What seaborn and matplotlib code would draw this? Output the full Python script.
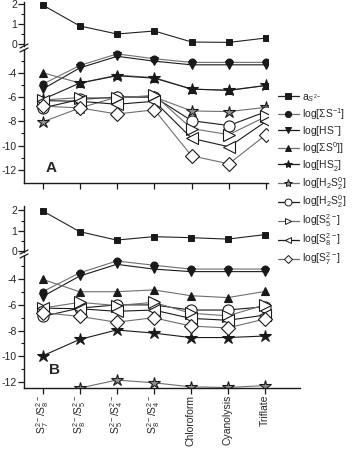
import numpy as np
import matplotlib
matplotlib.use("Agg")
import matplotlib.pyplot as plt
from matplotlib.lines import Line2D
import seaborn as sns

sns.set_theme(style="white")
plt.rcParams['font.family'] = ['Liberation Sans', 'DejaVu Sans']
plt.rcParams['mathtext.fontset'] = 'custom'
plt.rcParams['mathtext.rm'] = 'Liberation Sans'
plt.rcParams['mathtext.it'] = 'Liberation Sans:italic'
plt.rcParams['mathtext.bf'] = 'Liberation Sans:bold'
plt.rcParams['axes.unicode_minus'] = False

categories = [r'S$_7^{2-}$/S$_8^{2-}$', r'S$_8^{2-}$/S$_5^{2-}$', r'S$_5^{2-}$/S$_4^{2-}$',
              r'S$_8^{2-}$/S$_4^{2-}$', 'Chloroform', 'Cyanolysis', 'Triflate']

series_labels = [r'a$_{S^{2-}}$', r'log[$\Sigma$S$^{-1}$]', r'log[HS$^{-}$]', r'log[$\Sigma$S$^{0}$]]',
                 r'log[HS$_2^{-}$]', r'log[H$_2$S$_2^{0}$]', r'log[H$_2$S$_2^{0}$]',
                 r'log[S$_5^{2-}$]', r'log[S$_8^{2-}$]', r'log[S$_7^{2-}$]']

# Panel A
a_A = [1.95, 0.9, 0.5, 0.65, 0.1, 0.08, 0.3]
summ1_A = [-4.95, -3.4, -2.45, -2.85, -3.15, -3.15, -3.15]
hs_A = [-5.35, -3.6, -2.65, -3.05, -3.35, -3.35, -3.35]
sum0_A = [-4.0, -4.85, -4.2, -4.4, -5.35, -5.45, -5.05]
hs2_A = [-6.2, -4.85, -4.25, -4.45, -5.35, -5.45, -5.05]
h2s2star_A = [-8.05, -6.9, -6.0, -6.0, -7.15, -7.2, -6.85]
h2s2circ_A = [-6.9, -6.2, -6.0, -6.0, -7.95, -8.35, -7.2]
s5_A = [-6.25, -6.05, -6.1, -5.85, -8.6, -9.1, -7.6]
s8_A = [-6.3, -6.35, -6.6, -6.35, -9.4, -10.1, -8.0]
s7_A = [-6.75, -6.9, -7.4, -7.05, -10.85, -11.5, -9.1]

# Panel B
a_B = [1.98, 0.95, 0.53, 0.7, 0.65, 0.58, 0.8]
summ1_B = [-4.97, -3.5, -2.57, -2.9, -3.2, -3.2, -3.2]
hs_B = [-5.35, -3.75, -2.83, -3.2, -3.4, -3.4, -3.4]
sum0_B = [-4.0, -4.97, -4.97, -4.83, -5.28, -5.43, -4.95]
hs2_B = [-9.98, -8.7, -7.96, -8.2, -8.55, -8.55, -8.43]
h2s2star_B = [-13.2, -12.5, -11.87, -12.08, -12.4, -12.45, -12.3]
h2s2circ_B = [-6.9, -6.25, -6.0, -6.0, -6.4, -6.4, -6.14]
s5_B = [-6.25, -5.8, -6.05, -5.8, -6.65, -6.85, -6.0]
s8_B = [-6.25, -6.3, -6.5, -6.4, -7.05, -7.2, -6.8]
s7_B = [-6.6, -6.9, -7.35, -7.0, -7.65, -7.8, -7.1]

GRAY = '#6e6e6e'
styles = [
    dict(marker='s', ms=4, lms=4, mfc='k', mec='k', color='#222222'),
    dict(marker='o', ms=5, lms=4.5, mfc='k', mec='k', color=GRAY),
    dict(marker='v', ms=6, lms=5, mfc='k', mec='k', color='k'),
    dict(marker='^', ms=6, lms=5, mfc='k', mec='k', color=GRAY),
    dict(marker='*', ms=9, lms=6, mfc='k', mec='k', color='k'),
    dict(marker='*', ms=9, lms=6, mfc='#909090', mec='k', color=GRAY),
    dict(marker='o', ms=8, lms=5, mfc='white', mec='k', color='k'),
    dict(marker='>', ms=8, lms=5, mfc='white', mec='k', color=GRAY),
    dict(marker='<', ms=8, lms=5, mfc='white', mec='k', color='k'),
    dict(marker='D', ms=7, lms=4.5, mfc='white', mec='k', color=GRAY),
]

x = np.arange(len(categories))
W, H = 357, 449
fig = plt.figure(figsize=(W / 100, H / 100), dpi=100)


def fy(y):
    return 1 - y / H


FS = 7.5


def make_panel(top_up, bot_up, top_lo, bot_lo, right, uplim, lolim, data_up, data_lo, letter, show_labels, xright):
    left = 24
    ax_u = fig.add_axes([left / W, fy(bot_up), (right - left) / W, (bot_up - top_up) / H])
    ax_l = fig.add_axes([left / W, fy(bot_lo), (right - left) / W, (bot_lo - top_lo) / H])
    for ax in (ax_u, ax_l):
        ax.set_facecolor('none')
        for s in ('top', 'right'):
            ax.spines[s].set_visible(False)
        ax.spines['left'].set_color('k')
        ax.spines['left'].set_linewidth(1.0)
        ax.set_xlim(-0.5, xright)
        ax.tick_params(axis='y', direction='out', length=4, width=0.9, color='k',
                       labelsize=FS, pad=1, left=True)
        ax.tick_params(axis='y', which='minor', direction='out', length=2, width=0.8, color='k', left=True)
    ax_u.spines['bottom'].set_visible(False)
    ax_u.set_xticks([])
    ax_l.spines['bottom'].set_color('k')
    ax_l.spines['bottom'].set_linewidth(1.0)

    st = styles[0]
    sns.lineplot(x=x, y=data_up, ax=ax_u, marker=st['marker'], markersize=st['ms'],
                 markerfacecolor=st['mfc'], markeredgecolor=st['mec'], color=st['color'],
                 linewidth=0.8, markeredgewidth=0.7, legend=False)
    ax_u.set_ylim(*uplim)
    ax_u.set_yticks([0, 1, 2])
    ax_u.set_yticks([0.5, 1.5], minor=True)
    ax_u.set_ylabel('')

    for i, d in enumerate(data_lo):
        st = styles[i + 1]
        sns.lineplot(x=x, y=d, ax=ax_l, marker=st['marker'], markersize=st['ms'],
                     markerfacecolor=st['mfc'], markeredgecolor=st['mec'], color=st['color'],
                     linewidth=0.8, markeredgewidth=0.8, legend=False)
    ax_l.set_ylim(*lolim)
    ax_l.set_yticks([-4, -6, -8, -10, -12])
    ax_l.set_yticks([-3, -5, -7, -9, -11], minor=True)
    ax_l.set_ylabel('')
    ax_l.set_xticks(x)
    ax_l.tick_params(axis='x', direction='out', length=4, width=0.9, color='k', bottom=True, pad=1)
    if show_labels:
        ax_l.set_xticklabels(categories, rotation=90, fontsize=FS)
    else:
        ax_l.set_xticklabels([])
    ax_l.text(0.09, 0.06 if letter == 'A' else 0.08, letter, transform=ax_l.transAxes,
              fontsize=11, fontweight='bold', ha='left', va='bottom')

    xf = left / W
    for yy in ((bot_up + top_lo) / 2 - 2, (bot_up + top_lo) / 2 + 2):
        fig.add_artist(Line2D([xf - 4 / W, xf + 4 / W], [fy(yy + 2), fy(yy - 2)],
                              color='k', lw=0.9, transform=fig.transFigure))
    return ax_u, ax_l


make_panel(2, 46, 50, 183, 268, (-0.1, 2.1), (-13.08, -2.13),
           a_A, [summ1_A, hs_A, sum0_A, hs2_A, h2s2star_A, h2s2circ_A, s5_A, s8_A, s7_A], 'A', False, 6.05)
make_panel(206, 252, 256, 388, 300, (-0.06, 2.22), (-12.49, -2.18),
           a_B, [summ1_B, hs_B, sum0_B, hs2_B, h2s2star_B, h2s2circ_B, s5_B, s8_B, s7_B], 'B', True, 6.95)

handles = [Line2D([0], [0], marker=st['marker'], markersize=st['lms'], markerfacecolor=st['mfc'],
                  markeredgecolor=st['mec'], color=st['color'], linewidth=0.9, markeredgewidth=0.7)
           for st in styles]
fig.legend(handles, series_labels, loc='upper left', bbox_to_anchor=(278 / W, fy(92)),
           frameon=False, fontsize=FS, handlelength=2.0, handletextpad=0.3, labelspacing=0.2,
           borderaxespad=0, borderpad=0)

fig.savefig('out.png', dpi=100)
